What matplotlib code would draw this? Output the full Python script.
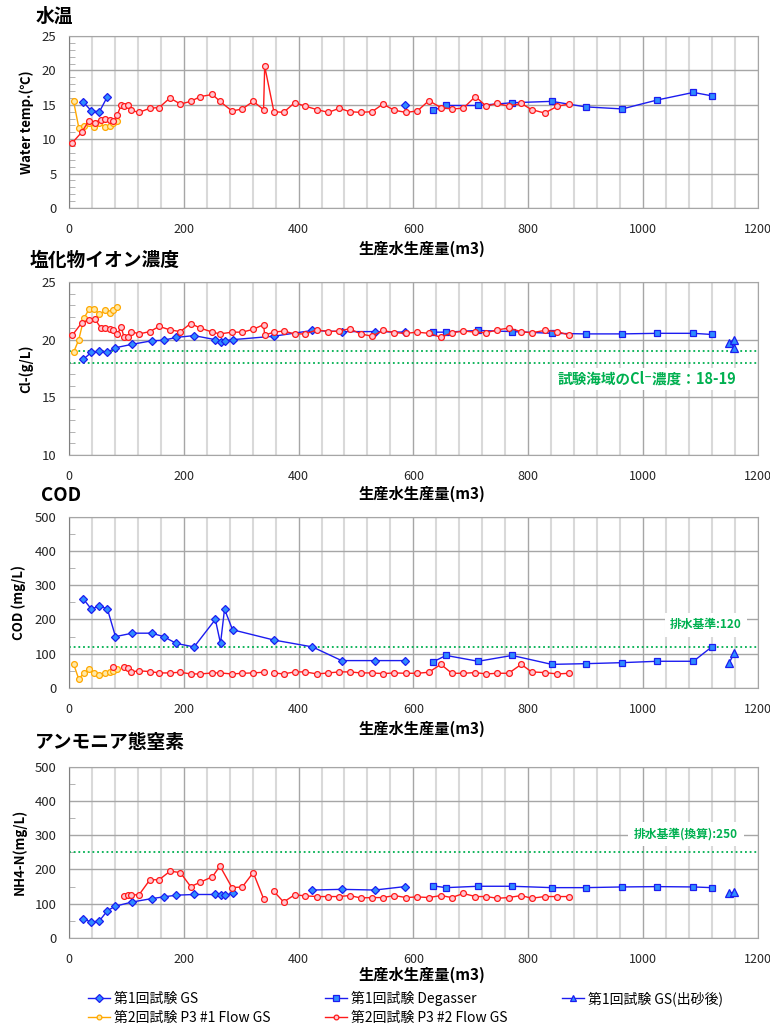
import numpy as np
import matplotlib
matplotlib.use('Agg')
import matplotlib.pyplot as plt
from matplotlib.ticker import MultipleLocator
from matplotlib.lines import Line2D

plt.rcParams['font.family'] = ['Noto Sans CJK JP', 'DejaVu Sans']

nan = np.nan

# 第1回試験 GS
gs1_x = [25, 39, 53, 67, 81, 110, 144, 165, 187, 218, 255, 264, 271, 285, 357, 424, 475, 533, 585]
gs1_temp = [15.4, 14.1, 14.0, 16.2, nan, nan, nan, nan, nan, nan, nan, nan, nan, nan, nan, nan, nan, nan, 15.0]
gs1_cl = [18.3, 18.9, 19.0, 18.9, 19.3, 19.6, 19.9, 19.95, 20.2, 20.35, 20.0, 19.8, 19.9, 20.0, 20.3, 20.8, 20.7, 20.7, 20.65]
gs1_cod = [260, 230, 240, 230, 150, 160, 160, 150, 130, 120, 200, 130, 230, 170, 140, 120, 80, 80, 80]
gs1_nh4 = [56, 46, 50, 80, 93, 105, 115, 120, 125, 127, 127, 125, 125, 130, nan, 140, 142, 140, 150]

# 第1回試験 Degasser
deg_x = [635, 657, 713, 772, 841, 900, 964, 1025, 1088, 1120]
deg_temp = [14.2, 14.9, 14.9, 15.3, 15.5, 14.7, 14.4, 15.7, 16.8, 16.3]
deg_cl = [20.65, 20.65, 20.8, 20.7, 20.55, 20.5, 20.5, 20.55, 20.55, 20.45]
deg_cod = [77, 95, 78, 95, 69, 71, 74, 78, 78, 120]
deg_nh4 = [152, 147, 151, 151, 147, 147, 149, 150, 149, 147]

# 第1回試験 GS(出砂後)
sand_x = [1150, 1159, 1159]
sand_temp = [nan, nan, nan]
sand_cl = [19.75, 20.0, 19.25]
sand_cod = [72, 102, nan]
sand_nh4 = [132, 133, nan]

# 第2回試験 P3 #1 Flow GS
p31_x = [8, 17, 26, 35, 44, 53, 63, 71, 76, 84]
p31_temp = [15.5, 11.7, 11.9, 12.3, 11.8, 12.3, 11.8, 11.9, 12.4, 12.6]
p31_cl = [18.9, 20.0, 21.85, 22.65, 22.65, 22.2, 22.55, 22.3, 22.55, 22.8]
p31_cod = [70, 26, 44, 54, 44, 39, 44, 47, 49, 56]
p31_nh4 = [nan] * 10

# 第2回試験 P3 #2 Flow GS
p32_x = [6, 22, 34, 45, 55, 62, 71, 77, 84, 91, 96, 102, 108, 122, 141, 157, 176, 194,
         212, 229, 250, 263, 284, 302, 321, 339, 341, 357, 374, 393, 412, 432, 452, 471,
         489, 508, 528, 547, 567, 587, 607, 627, 648, 667, 687, 708, 727, 746, 766, 788,
         806, 829, 851, 871]
p32_temp = [9.5, 11.0, 12.6, 12.4, 12.8, 12.9, 12.8, 12.6, 13.5, 15.0, 14.8, 14.9, 14.2,
            13.9, 14.5, 14.6, 16.0, 15.1, 15.5, 16.2, 16.5, 15.5, 14.1, 14.4, 15.5, 14.3,
            20.6, 14.0, 13.9, 15.3, 14.8, 14.3, 13.9, 14.5, 14.0, 13.9, 14.0, 15.1, 14.2,
            13.9, 14.1, 15.6, 14.6, 14.4, 14.5, 16.2, 14.8, 15.2, 14.8, 15.2, 14.3, 13.8,
            14.8, 15.1]
p32_cl = [20.4, 21.45, 21.7, 21.8, 21.05, 21.05, 20.95, 20.85, 20.5, 21.07, 20.2, 20.2,
          20.7, 20.5, 20.7, 21.15, 20.85, 20.7, 21.4, 21.0, 20.65, 20.5, 20.65, 20.65,
          20.9, 21.3, 20.4, 20.65, 20.75, 20.5, 20.5, 20.85, 20.7, 20.75, 20.95, 20.5,
          20.3, 20.8, 20.6, 20.55, 20.65, 20.55, 20.2, 20.6, 20.75, 20.65, 20.6, 20.85,
          21.0, 20.7, 20.6, 20.8, 20.7, 20.4]
p32_cod = [nan, nan, nan, nan, nan, nan, nan, 60, nan, nan, 60, 57, 47, 50, 48, 44, 44, 46,
           41, 41, 44, 44, 41, 43, 44, 46, nan, 44, 41, 47, 47, 41, 44, 47, 47, 44, 44, 42,
           44, 43, 43, 46, 69, 43, 43, 45, 41, 43, 43, 69, 47, 45, 41, 43]
p32_nh4 = [nan, nan, nan, nan, nan, nan, nan, nan, nan, nan, 124, 126, 126, 126, 170, 170,
           195, 191, 150, 163, 179, 210, 147, 149, 191, 115, nan, 136, 105, 126, 123, 121,
           121, 121, 124, 117, 118, 118, 124, 118, 120, 118, 124, 118, 130, 121, 121, 116,
           118, 124, 116, 121, 121, 121]

# reference levels
cl_sea = [18, 19]
cod_limit = 120
nh4_limit = 250

W, H = 770, 1031
fig = plt.figure(figsize=(W / 100, H / 100), dpi=100)


def fx(px):
    return px / W


def fy(py):
    return 1 - py / H


styles = {
    'gs': dict(color='#1c1cf0', marker='D', mfc='#2f8cff', mec='#1c1cf0', ms=4.5),
    'deg': dict(color='#1c1cf0', marker='s', mfc='#2f8cff', mec='#1c1cf0', ms=4.5),
    'sand': dict(color='#1c1cf0', marker='^', mfc='#2f8cff', mec='#1c1cf0', ms=5.5),
    'p31': dict(color='#ffa800', marker='o', mfc='#ffe9a8', mec='#ffa800', ms=4.2),
    'p32': dict(color='#ff1a1a', marker='o', mfc='#ffc8d2', mec='#ff1a1a', ms=4.2),
}
labels = {
    'gs': '第1回試験 GS',
    'deg': '第1回試験 Degasser',
    'sand': '第1回試験 GS(出砂後)',
    'p31': '第2回試験 P3 #1 Flow GS',
    'p32': '第2回試験 P3 #2 Flow GS',
}

green = '#00b050'

# (top px, bottom px, ymin, ymax, major, minor, ylabel, title, title pos, xlabel y)
panels = [
    (36, 208, 0, 25, 5, 1, 'Water temp.(℃)', '水温', (36, 16), 249),
    (282, 455, 10, 25, 5, 1, 'Cl-(g/L)', '塩化物イオン濃度', (30, 260), 494),
    (516.7, 688, 0, 500, 100, 50, 'COD (mg/L)', 'COD', (41, 495), 729),
    (766.7, 938, 0, 500, 100, 50, 'NH4-N(mg/L)', 'アンモニア態窒素', (35, 743), 975),
]
series = [
    {'gs': gs1_temp, 'deg': deg_temp, 'sand': sand_temp, 'p31': p31_temp, 'p32': p32_temp},
    {'gs': gs1_cl, 'deg': deg_cl, 'sand': sand_cl, 'p31': p31_cl, 'p32': p32_cl},
    {'gs': gs1_cod, 'deg': deg_cod, 'sand': sand_cod, 'p31': p31_cod, 'p32': p32_cod},
    {'gs': gs1_nh4, 'deg': deg_nh4, 'sand': sand_nh4, 'p31': p31_nh4, 'p32': p32_nh4},
]
xs = {'gs': gs1_x, 'deg': deg_x, 'sand': sand_x, 'p31': p31_x, 'p32': p32_x}

left, right = 69, 757.7
axes = []
for (top, bot, ymin, ymax, major, minor, ylab, title, tpos, xly), data in zip(panels, series):
    ax = fig.add_axes([fx(left), fy(bot), fx(right - left), (bot - top) / H])
    axes.append(ax)
    ax.set_xlim(0, 1200)
    ax.set_ylim(ymin, ymax)
    ax.xaxis.set_major_locator(MultipleLocator(200))
    ax.xaxis.set_minor_locator(MultipleLocator(40))
    ax.yaxis.set_major_locator(MultipleLocator(major))
    ax.yaxis.set_minor_locator(MultipleLocator(minor))
    ax.set_axisbelow(True)
    ax.grid(which='major', axis='both', color='#a6a6a6', lw=1.0)
    ax.grid(which='minor', axis='x', color='#d9d9d9', lw=1.5)
    ax.tick_params(axis='x', which='both', length=0, pad=11, labelsize=9, labelcolor='#262626')
    ax.tick_params(axis='y', which='major', length=0, pad=9, labelsize=9.5, labelcolor='#262626')
    ax.tick_params(axis='y', which='minor', direction='in', length=4, color='#a6a6a6')
    for s in ax.spines.values():
        s.set_color('#a6a6a6')
    ax.spines['left'].set_color('#808080')
    ax.set_ylabel(ylab, fontsize=9.5, fontweight='bold', labelpad=6)

    for key in ['gs', 'deg', 'sand', 'p31', 'p32']:
        st = styles[key]
        ax.plot(xs[key], data[key], color=st['color'], lw=1.0, marker=st['marker'],
                ms=st['ms'], mfc=st['mfc'], mec=st['mec'], mew=0.9, zorder=3)

    fig.text(fx(tpos[0]), fy(tpos[1]), title, fontsize=13.5, fontweight='bold',
             ha='left', va='center')
    fig.text(fx(422), fy(xly), '生産水生産量(m3)', fontsize=11, fontweight='bold',
             ha='center', va='center')

# reference lines and notes
for v in cl_sea:
    axes[1].axhline(v, color=green, ls=(0, (1, 1.6)), lw=1.3, zorder=2)
axes[1].text(1007, 16.6, '試験海域のCl⁻濃度：18-19', color=green, fontsize=10.5,
             fontweight='bold', ha='center', va='center',
             bbox=dict(fc='white', ec='none', pad=2))
axes[2].axhline(cod_limit, color=green, ls=(0, (1, 1.6)), lw=1.3, zorder=2)
axes[2].text(1110, 184, '排水基準:120', color=green, fontsize=8.5, fontweight='bold',
             ha='center', va='center', bbox=dict(fc='white', ec='none', pad=4))
axes[3].axhline(nh4_limit, color=green, ls=(0, (1, 1.6)), lw=1.3, zorder=2)
axes[3].text(1075, 304, '排水基準(換算):250', color=green, fontsize=8.5, fontweight='bold',
             ha='center', va='center', bbox=dict(fc='white', ec='none', pad=4))

# legend, filled column by column
order = ['gs', 'p31', 'deg', 'p32', 'sand']
handles = []
for key in order:
    st = styles[key]
    handles.append(Line2D([], [], color=st['color'], lw=1.0, marker=st['marker'],
                          ms=st['ms'] - 0.8, mfc=st['mfc'], mec=st['mec'], mew=0.9))
fig.legend(handles, [labels[k] for k in order], ncol=3, loc='upper left',
           bbox_to_anchor=(fx(88), fy(991)), frameon=False, fontsize=10,
           handlelength=1.6, handletextpad=0.3, columnspacing=3.9, labelspacing=0.35,
           borderaxespad=0, borderpad=0)

fig.savefig('out.png', dpi=100)
